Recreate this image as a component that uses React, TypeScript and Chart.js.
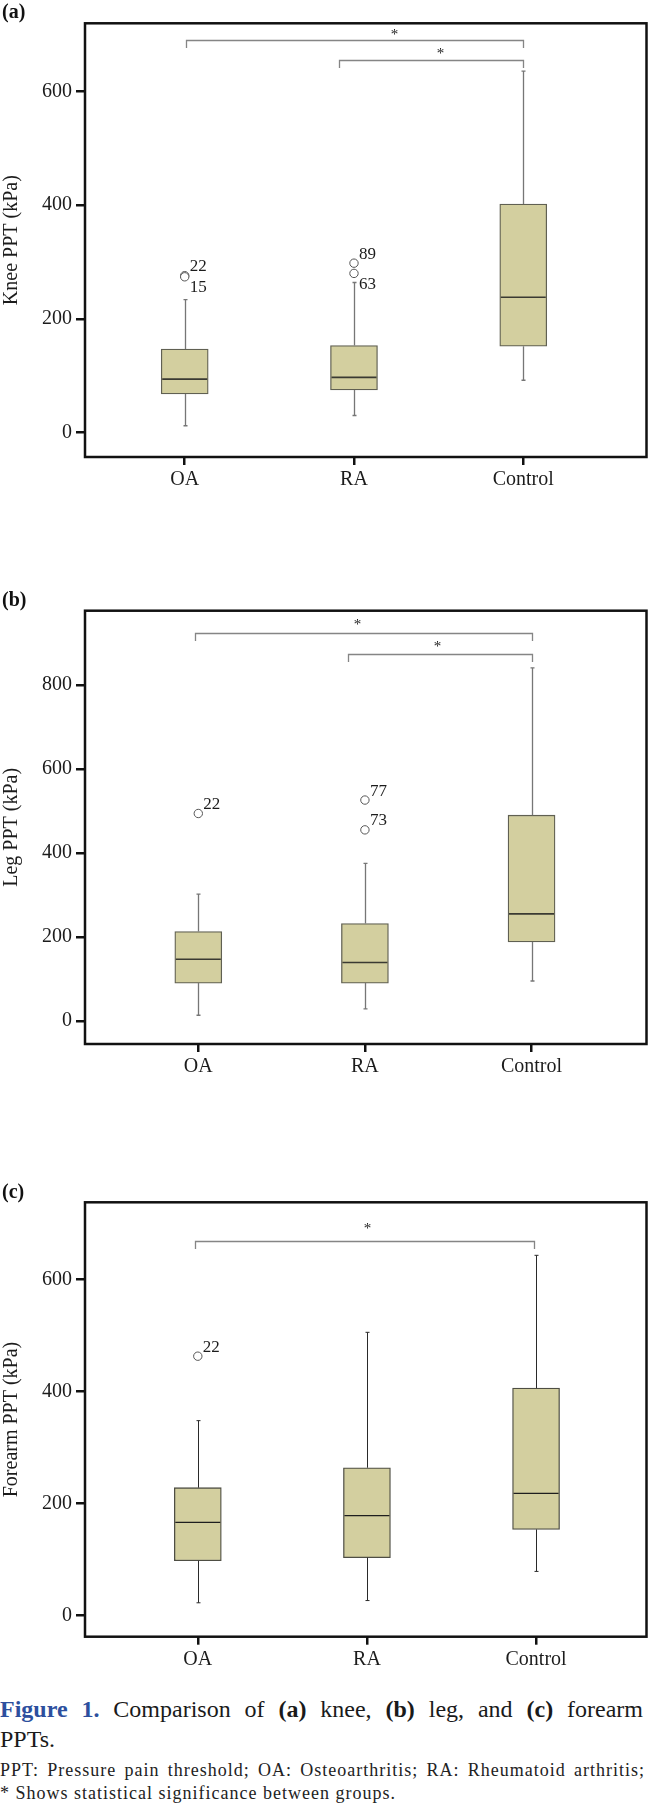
import React, { useEffect, useRef } from 'react';
import { Chart, registerables } from 'chart.js';

Chart.register(...registerables);
Chart.defaults.font.family = '"Liberation Serif", "Times New Roman", serif';

const categories = ['OA', 'RA', 'Control'];

// ---------- (a) Knee PPT ----------
const kneeWhiskerLow = [12, 30, 92];
const kneeQ1 = [68, 75, 152];
const kneeMedian = [94, 97, 238];
const kneeQ3 = [147, 153, 402];
const kneeWhiskerHigh = [234, 264, 636];
const kneeOutlierGroup = [0, 0, 1, 1];
const kneeOutlierValue = [276, 274, 298, 280];
const kneeOutlierLabel = ['22', '15', '89', '63'];
const kneeOutlierSide = ['above', 'below', 'above', 'below'];
const kneeTicks = [0, 200, 400, 600];
const kneeBracketFrom = [0.01, 0.91];
const kneeBracketTo = [2, 2];
const kneeBracketValue = [690, 655];
const kneeStarX = [1.239, 1.511];
const kneeStarValue = [707, 673];

// ---------- (b) Leg PPT ----------
const legWhiskerLow = [13.5, 28.6, 95];
const legQ1 = [90, 90, 188];
const legMedian = [147, 139, 255];
const legQ3 = [213, 232, 490];
const legWhiskerHigh = [302, 375, 841];
const legOutlierGroup = [0, 1, 1];
const legOutlierValue = [494, 526, 455];
const legOutlierLabel = ['22', '77', '73'];
const legOutlierSide = ['above', 'above', 'above'];
const legTicks = [0, 200, 400, 600, 800];
const legBracketFrom = [-0.02, 0.9];
const legBracketTo = [2, 2];
const legBracketValue = [923, 874];
const legStarX = [0.956, 1.436];
const legStarValue = [952, 899];

// ---------- (c) Forearm PPT ----------
const forearmWhiskerLow = [23, 27, 79];
const forearmQ1 = [98, 103.5, 154];
const forearmMedian = [166.6, 178.4, 218.4];
const forearmQ3 = [228.4, 264, 406];
const forearmWhiskerHigh = [348, 505.6, 643];
const forearmOutlierGroup = [0];
const forearmOutlierValue = [463];
const forearmOutlierLabel = ['22'];
const forearmOutlierSide = ['above'];
const forearmTicks = [0, 200, 400, 600];
const forearmBracketFrom = [-0.014];
const forearmBracketTo = [1.986];
const forearmBracketValue = [668.5];
const forearmStarX = [1.004];
const forearmStarValue = [697];

const BOX_FILL = '#d3cf9f';
const TEXT = '#1c1c1c';

type Panel = {
  title: string;
  low: number[]; q1: number[]; med: number[]; q3: number[]; high: number[];
  outGroup: number[]; outValue: number[]; outLabel: string[]; outSide: string[];
  ticks: number[];
  bFrom: number[]; bTo: number[]; bValue: number[]; starX: number[]; starValue: number[];
  yMin: number; yMax: number; xMin: number; xMax: number;
  canvasTop: number; canvasH: number; padTop: number; xAxisH: number;
  whiskerColor: string; whiskerWidth: number; medianColor: string; medianWidth: number; boxBorder: string;
};

const panels: Panel[] = [
  {
    title: 'Knee PPT (kPa)',
    low: kneeWhiskerLow, q1: kneeQ1, med: kneeMedian, q3: kneeQ3, high: kneeWhiskerHigh,
    outGroup: kneeOutlierGroup, outValue: kneeOutlierValue, outLabel: kneeOutlierLabel, outSide: kneeOutlierSide,
    ticks: kneeTicks,
    bFrom: kneeBracketFrom, bTo: kneeBracketTo, bValue: kneeBracketValue, starX: kneeStarX, starValue: kneeStarValue,
    yMin: -43, yMax: 720, xMin: -0.589, xMax: 2.728,
    canvasTop: 0, canvasH: 500, padTop: 23.3, xAxisH: 43,
    whiskerColor: '#767676', whiskerWidth: 1.3, medianColor: '#3a3a32', medianWidth: 1.6, boxBorder: '#606052',
  },
  {
    title: 'Leg PPT (kPa)',
    low: legWhiskerLow, q1: legQ1, med: legMedian, q3: legQ3, high: legWhiskerHigh,
    outGroup: legOutlierGroup, outValue: legOutlierValue, outLabel: legOutlierLabel, outSide: legOutlierSide,
    ticks: legTicks,
    bFrom: legBracketFrom, bTo: legBracketTo, bValue: legBracketValue, starX: legStarX, starValue: legStarValue,
    yMin: -55, yMax: 977, xMin: -0.68, xMax: 2.69,
    canvasTop: 590, canvasH: 500, padTop: 20.7, xAxisH: 46,
    whiskerColor: '#767676', whiskerWidth: 1.3, medianColor: '#3a3a32', medianWidth: 1.6, boxBorder: '#606052',
  },
  {
    title: 'Forearm PPT (kPa)',
    low: forearmWhiskerLow, q1: forearmQ1, med: forearmMedian, q3: forearmQ3, high: forearmWhiskerHigh,
    outGroup: forearmOutlierGroup, outValue: forearmOutlierValue, outLabel: forearmOutlierLabel, outSide: forearmOutlierSide,
    ticks: forearmTicks,
    bFrom: forearmBracketFrom, bTo: forearmBracketTo, bValue: forearmBracketValue, starX: forearmStarX, starValue: forearmStarValue,
    yMin: -37.5, yMax: 737.6, xMin: -0.667, xMax: 2.653,
    canvasTop: 1185, canvasH: 495, padTop: 17.3, xAxisH: 43.3,
    whiskerColor: '#2a2a2a', whiskerWidth: 1, medianColor: '#1e1e1e', medianWidth: 1.2, boxBorder: '#4e4e44',
  },
];

function makeConfig(p: Panel): any {
  const extras = {
    id: 'boxExtras',
    afterDatasetsDraw(chart: any) {
      const { ctx, scales } = chart;
      const x = scales.x, y = scales.y;
      const bars = chart.getDatasetMeta(0).data;
      ctx.save();
      categories.forEach((_, i) => {
        const cx = Math.round(x.getPixelForValue(i)) + 0.5;
        const yl = y.getPixelForValue(p.low[i]);
        const yh = y.getPixelForValue(p.high[i]);
        const y1 = y.getPixelForValue(p.q1[i]);
        const y3 = y.getPixelForValue(p.q3[i]);
        ctx.strokeStyle = p.whiskerColor;
        ctx.lineWidth = p.whiskerWidth;
        ctx.beginPath();
        ctx.moveTo(cx, y3); ctx.lineTo(cx, yh);
        ctx.moveTo(cx, y1); ctx.lineTo(cx, yl);
        ctx.moveTo(cx - 2, yh); ctx.lineTo(cx + 2, yh);
        ctx.moveTo(cx - 2, yl); ctx.lineTo(cx + 2, yl);
        ctx.stroke();
        const b: any = bars[i];
        const ym = y.getPixelForValue(p.med[i]);
        ctx.strokeStyle = p.medianColor;
        ctx.lineWidth = p.medianWidth;
        ctx.beginPath();
        ctx.moveTo(b.x - b.width / 2 + 1, ym);
        ctx.lineTo(b.x + b.width / 2 - 1, ym);
        ctx.stroke();
      });
      // outlier labels
      ctx.fillStyle = TEXT;
      ctx.font = '17px "Liberation Serif", serif';
      ctx.textAlign = 'left';
      ctx.textBaseline = 'middle';
      p.outLabel.forEach((lab, i) => {
        const px = x.getPixelForValue(p.outGroup[i]);
        const py = y.getPixelForValue(p.outValue[i]);
        ctx.fillText(lab, px + 5, p.outSide[i] === 'above' ? py - 9 : py + 11);
      });
      // significance brackets
      ctx.strokeStyle = '#858585';
      ctx.lineWidth = 1.3;
      p.bValue.forEach((v, i) => {
        const x1 = Math.round(x.getPixelForValue(p.bFrom[i])) + 0.5;
        const x2 = Math.round(x.getPixelForValue(p.bTo[i])) + 0.5;
        const yb = Math.round(y.getPixelForValue(v)) + 0.5;
        ctx.beginPath();
        ctx.moveTo(x1, yb + 7.5); ctx.lineTo(x1, yb); ctx.lineTo(x2, yb); ctx.lineTo(x2, yb + 7.5);
        ctx.stroke();
      });
      ctx.fillStyle = '#222';
      ctx.font = '15px "Liberation Serif", serif';
      ctx.textAlign = 'center';
      ctx.textBaseline = 'alphabetic';
      p.starValue.forEach((v, i) => {
        ctx.fillText('*', x.getPixelForValue(p.starX[i]), y.getPixelForValue(v) + 8);
      });
      ctx.restore();
    },
    afterDraw(chart: any) {
      const { ctx, chartArea: a } = chart;
      ctx.save();
      ctx.strokeStyle = '#111';
      ctx.lineWidth = 2.5;
      ctx.strokeRect(a.left, a.top, a.right - a.left, a.bottom - a.top);
      ctx.restore();
    },
  };

  const tickFont = { size: 20, family: '"Liberation Serif", serif' };
  return {
    type: 'bar',
    data: {
      datasets: [
        {
          type: 'bar',
          data: p.q1.map((q, i) => ({ x: i, y: [q, p.q3[i]] })),
          backgroundColor: BOX_FILL,
          borderColor: p.boxBorder,
          borderWidth: 1.3,
          borderSkipped: false,
          barThickness: 47,
          order: 2,
        },
        {
          type: 'scatter',
          data: p.outGroup.map((g, i) => ({ x: g, y: p.outValue[i] })),
          pointStyle: 'circle',
          pointRadius: 4.2,
          pointBackgroundColor: '#ffffff',
          pointBorderColor: '#555555',
          pointBorderWidth: 1,
          showLine: false,
          order: 1,
        },
      ],
    },
    options: {
      animation: false,
      responsive: false,
      maintainAspectRatio: false,
      events: [],
      layout: { autoPadding: false, padding: { top: p.padTop, right: 1.5, bottom: 0, left: 0 } },
      plugins: { legend: { display: false }, tooltip: { enabled: false }, title: { display: false } },
      scales: {
        x: {
          type: 'linear',
          min: p.xMin,
          max: p.xMax,
          offset: false,
          afterBuildTicks: (s: any) => { s.ticks = categories.map((_, i) => ({ value: i })); },
          afterFit: (s: any) => { s.height = p.xAxisH; },
          ticks: {
            callback: (v: any) => categories[Math.round(Number(v))],
            font: tickFont, color: TEXT, padding: 3, maxRotation: 0, autoSkip: false,
          },
          grid: { display: true, offset: false, drawOnChartArea: false, drawTicks: true, tickLength: 8, tickWidth: 2.5, tickColor: '#111', lineWidth: 2.5, color: '#111' },
          border: { display: false },
        },
        y: {
          type: 'linear',
          min: p.yMin,
          max: p.yMax,
          afterBuildTicks: (s: any) => { s.ticks = p.ticks.map((v) => ({ value: v })); },
          afterFit: (s: any) => { s.width = 85; },
          ticks: { font: tickFont, color: TEXT, padding: 4 },
          grid: { display: true, drawOnChartArea: false, drawTicks: true, tickLength: 9, tickWidth: 2.5, tickColor: '#111', lineWidth: 2.5, color: '#111' },
          border: { display: false },
          title: { display: true, text: p.title, font: { size: 20, family: '"Liberation Serif", serif' }, color: TEXT, padding: { top: 0, bottom: 0 } },
        },
      },
    },
    plugins: [extras],
  };
}

function PanelChart({ p }: { p: Panel }) {
  const ref = useRef<HTMLCanvasElement>(null);
  useEffect(() => {
    const chart = new Chart(ref.current as HTMLCanvasElement, makeConfig(p));
    return () => chart.destroy();
  }, [p]);
  return (
    <canvas
      ref={ref}
      width={648}
      height={p.canvasH}
      style={{ position: 'absolute', left: 0, top: p.canvasTop, width: 648, height: p.canvasH, display: 'block' }}
    />
  );
}

const panelLetters = ['(a)', '(b)', '(c)'];
const panelLetterTops = [-1, 587, 1179];

export default function App() {
  const serif = '"Liberation Serif", "Times New Roman", serif';
  return (
    <div style={{ position: 'absolute', left: 0, top: 0, width: 648, height: 1805, background: '#fff', overflow: 'hidden', fontFamily: serif }}>
      {panels.map((p, i) => (
        <PanelChart key={i} p={p} />
      ))}
      {panelLetters.map((l, i) => (
        <div key={l} style={{ position: 'absolute', left: 2, top: panelLetterTops[i], fontSize: 20, lineHeight: '24px', fontWeight: 'bold', color: '#111' }}>{l}</div>
      ))}
      <div style={{ position: 'absolute', left: 0, top: 1695, width: 643, fontSize: 24, lineHeight: '29.5px', color: '#1a1a1a' }}>
        <div style={{ textAlign: 'justify', textAlignLast: 'justify', whiteSpace: 'nowrap' as any }}>
          <span style={{ color: '#2d4f9e', fontWeight: 'bold' }}>Figure 1.</span> Comparison of <b>(a)</b> knee, <b>(b)</b> leg, and <b>(c)</b> forearm
        </div>
        <div>PPTs.</div>
      </div>
      <div style={{ position: 'absolute', left: 0, top: 1759.4, width: 645, fontSize: 18, lineHeight: '22.5px', letterSpacing: '1px', color: '#222' }}>
        <div style={{ textAlign: 'justify', textAlignLast: 'justify' }}>PPT: Pressure pain threshold; OA: Osteoarthritis; RA: Rheumatoid arthritis;</div>
        <div>* Shows statistical significance between groups.</div>
      </div>
    </div>
  );
}
